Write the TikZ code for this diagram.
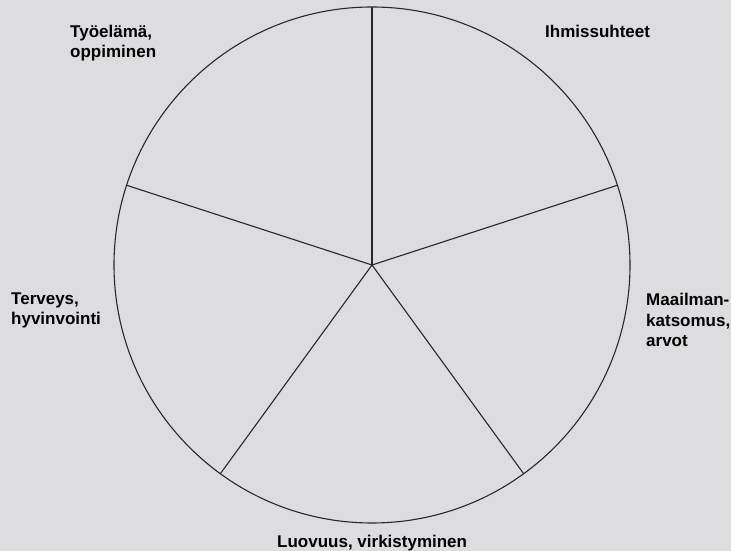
\documentclass[tikz,border=0pt]{standalone}
\usepackage{fontspec}
\setmainfont{Liberation Sans}
\usetikzlibrary{calc}
\definecolor{bg}{RGB}{221,221,223}
\definecolor{ln}{RGB}{40,40,40}
\begin{document}
\begin{tikzpicture}[x=1bp,y=1bp,
  spoke/.style={draw=ln,line width=1.1bp},
  lbl/.style={inner sep=0pt,anchor=base west,align=left,
    font=\fontsize{17bp}{20.5bp}\selectfont\bfseries}]
\fill[bg] (0,0) rectangle (731,551);
\useasboundingbox (0,0) rectangle (731,551);
\coordinate (c) at (372,286);
\draw[spoke] (c) circle (258);
\foreach \a/\n in {90/p1,18/p2,-54/p3,-126/p4,162/p5}{
  \coordinate (\n) at ($(c)+(\a:258)$);
}
\draw[spoke] (c) -- (p1);
\draw[spoke] (c) -- (p2);
\draw[spoke] (c) -- (p3);
\draw[spoke] (c) -- (p4);
\draw[spoke] (c) -- (p5);
\node[lbl] (tyo) at (70,493) {Työelämä,\\oppiminen};
\node[lbl] (ihm) at (545,513.5) {Ihmissuhteet};
\node[lbl] (maa) at (646,204) {Maailman-\\katsomus,\\arvot};
\node[lbl] (ter) at (11,226) {Terveys,\\hyvinvointi};
\node[lbl] (luo) at (277,3) {Luovuus, virkistyminen};
\end{tikzpicture}
\end{document}
